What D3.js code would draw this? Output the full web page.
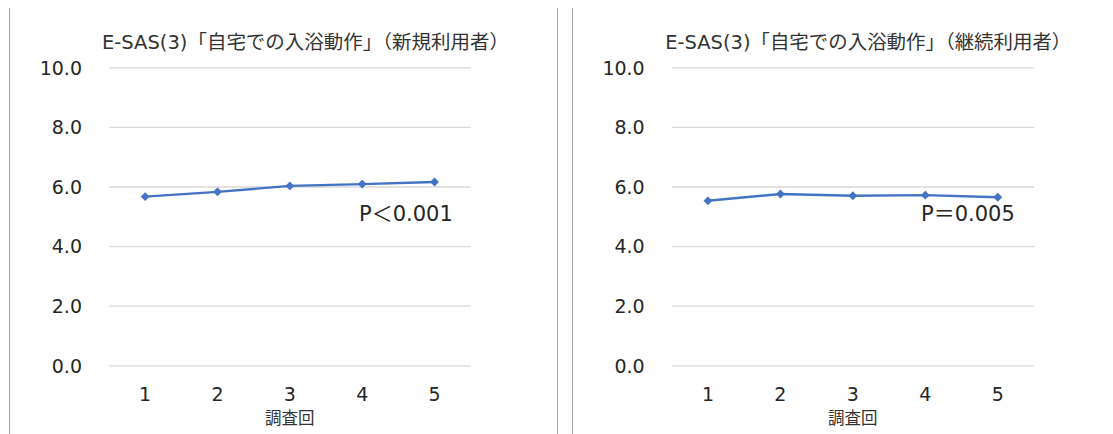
<!DOCTYPE html>
<html>
<head>
<meta charset="utf-8">
<script src="https://cdn.jsdelivr.net/npm/d3@7"></script>
<style>
  html, body { margin: 0; padding: 0; background: #fff; }
  svg { display: block; }
  text { font-family: "DejaVu Sans", "Noto Sans CJK JP", sans-serif; }
  .cjk { font-family: "Noto Sans CJK JP", "DejaVu Sans", sans-serif; }
</style>
</head>
<body>
<svg id="chart" width="1113" height="434"></svg>
<script>
// ---- data ----
const rounds = ["1", "2", "3", "4", "5"];
const yTicks = [0, 2, 4, 6, 8, 10];
const newUsers = [5.66, 5.82, 6.02, 6.08, 6.15];
const continuingUsers = [5.52, 5.75, 5.69, 5.71, 5.64];
const titleNew = "E-SAS(3)「自宅での入浴動作」（新規利用者）";
const titleCont = "E-SAS(3)「自宅での入浴動作」（継続利用者）";
const pNew = "P＜0.001";
const pCont = "P＝0.005";
const xTitle = "調査回";

// ---- drawing ----
const svg = d3.select("#chart");

// separator lines
[9.5, 557.5, 572.5].forEach(x => {
  svg.append("line").attr("x1", x).attr("x2", x).attr("y1", 8).attr("y2", 434)
    .attr("stroke", "#a6a6a6").attr("stroke-width", 1);
});

function drawChart(cfg) {
  const g = svg.append("g");
  const x = d3.scaleBand().domain(rounds).range([cfg.x0, cfg.x1]);
  const y = d3.scaleLinear().domain([0, 10]).range([365.3, 67.3]);

  const yAxis = d3.axisLeft(y).tickValues(yTicks).tickFormat(d3.format(".1f"))
    .tickSize(-(cfg.x1 - cfg.x0)).tickPadding(27);
  const ya = g.append("g").attr("transform", `translate(${cfg.x0},0)`).call(yAxis);
  ya.select(".domain").remove();
  ya.selectAll("line").attr("stroke", "#d9d9d9").attr("stroke-width", 1.3);
  ya.selectAll("text").attr("fill", "#262626").style("font-size", "19px")
    .attr("font-family", null).attr("dy", "0.36em");

  const xAxis = d3.axisBottom(x).tickSize(0).tickPadding(0);
  const xa = g.append("g").attr("transform", `translate(0,394)`).call(xAxis);
  xa.select(".domain").remove();
  xa.selectAll("text").attr("fill", "#262626").style("font-size", "19px")
    .attr("font-family", null).attr("y", 0).attr("dy", "0.36em");

  const cx = d => x(d) + x.bandwidth() / 2;
  const line = d3.line().x((d, i) => cx(rounds[i])).y(d => y(d));
  g.append("path").datum(cfg.values).attr("d", line)
    .attr("fill", "none").attr("stroke", "#4472c4").attr("stroke-width", 2.4);
  g.selectAll(".pt").data(cfg.values).enter().append("path")
    .attr("d", d3.symbol(d3.symbolDiamond2, 50))
    .attr("transform", (d, i) => `translate(${cx(rounds[i])},${y(d)})`)
    .attr("fill", "#4472c4");

  g.append("text").attr("x", cfg.titleX).attr("y", 41.7).attr("dy", "0.36em")
    .attr("text-anchor", "middle").attr("fill", "#333").style("font-size", "19px")
    .attr("textLength", cfg.titleW).attr("lengthAdjust", "spacingAndGlyphs")
    .text(cfg.title);
  g.append("text").attr("class", "cjk").attr("x", (cfg.x0 + cfg.x1) / 2).attr("y", 418).attr("dy", "0.36em")
    .attr("text-anchor", "middle").attr("fill", "#333").style("font-size", "16.5px")
    .text(xTitle);
  g.append("text").attr("x", cfg.pX).attr("y", 213).attr("dy", "0.36em")
    .attr("fill", "#262626").style("font-size", "21px")
    .text(cfg.p);
}

drawChart({ x0: 109, x1: 470.7, values: newUsers, title: titleNew, titleX: 305.5, titleW: 407, p: pNew, pX: 359 });
drawChart({ x0: 671.7, x1: 1034, values: continuingUsers, title: titleCont, titleX: 868.3, titleW: 406, p: pCont, pX: 921 });
</script>
</body>
</html>
